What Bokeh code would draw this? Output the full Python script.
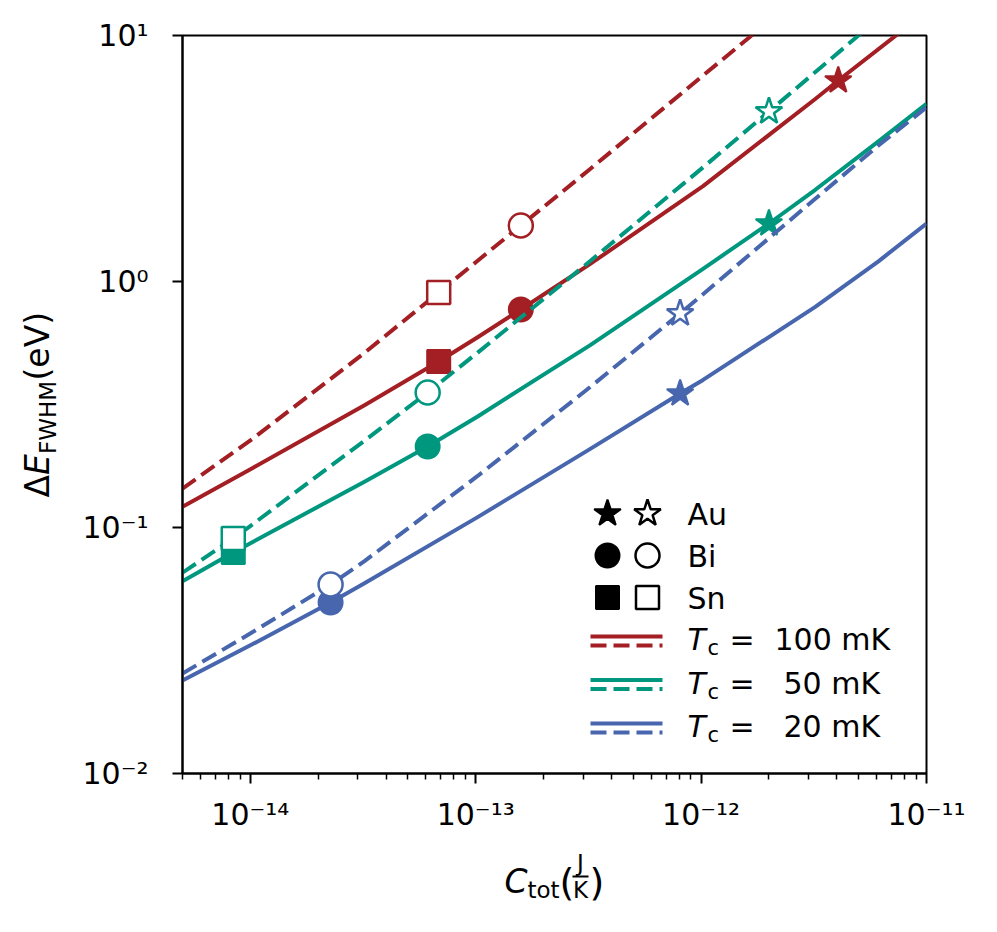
import numpy as np
from bokeh.plotting import figure
from bokeh.layouts import row, column
from bokeh.models import (FixedTicker, CustomJSTickFormatter, Label, Arrow, Range1d)
from bokeh.embed import file_html
from bokeh.resources import INLINE

# ---------------- data ----------------
# Tc = 100 mK
C_100_solid = [5.0e-15, 1.02e-14, 3.21e-14, 6.85e-14, 1.02e-13, 1.585e-13, 3.21e-13, 1.02e-12, 3.21e-12, 4.06e-12, 1.0e-11]
E_100_solid = [0.1215, 0.1742, 0.3142, 0.4729, 0.5934, 0.7697, 1.176, 2.44, 5.52, 6.563, 12.5]
C_100_dashed = [5.0e-15, 1.02e-14, 3.21e-14, 6.85e-14, 1.02e-13, 1.585e-13, 3.21e-13, 1.02e-12, 1.634e-12, 3.21e-12]
E_100_dashed = [0.144, 0.229, 0.513, 0.9021, 1.215, 1.689, 2.86, 6.876, 9.81, 16.8]
# Tc = 50 mK
C_50_solid = [5.0e-15, 8.4e-15, 1.02e-14, 3.21e-14, 6.12e-14, 1.02e-13, 3.21e-13, 1.02e-12, 2.0e-12, 3.21e-12, 6.12e-12, 1.0e-11]
E_50_solid = [0.0605, 0.0791, 0.0871, 0.1536, 0.2135, 0.2828, 0.5498, 1.126, 1.721, 2.36, 3.71, 5.27]
C_50_dashed = [5.0e-15, 8.4e-15, 1.02e-14, 3.21e-14, 6.12e-14, 1.02e-13, 3.21e-13, 1.02e-12, 2.0e-12, 4.99e-12, 1.0e-11]
E_50_dashed = [0.0655, 0.0902, 0.1028, 0.2253, 0.3538, 0.514, 1.208, 2.91, 4.911, 10.0, 17.5]
# Tc = 20 mK
C_20_solid = [5.0e-15, 1.02e-14, 2.27e-14, 3.21e-14, 1.02e-13, 3.21e-13, 8.07e-13, 1.02e-12, 3.21e-12, 6.12e-12, 1.0e-11]
E_20_solid = [0.0239, 0.0335, 0.04955, 0.0594, 0.1102, 0.2083, 0.3505, 0.398, 0.789, 1.208, 1.721]
C_20_dashed = [5.0e-15, 1.02e-14, 2.27e-14, 3.21e-14, 1.02e-13, 3.21e-13, 8.07e-13, 1.02e-12, 3.21e-12, 6.12e-12, 1.0e-11]
E_20_dashed = [0.0255, 0.0375, 0.05866, 0.0730, 0.162, 0.3715, 0.7413, 0.888, 2.17, 3.57, 5.10]

# absorber materials (markers): filled -> solid curve, open -> dashed curve
mat_100 = ["Au", "Bi", "Sn"]
C_100_mark = [4.06e-12, 1.585e-13, 6.85e-14]
E_100_filled = [6.563, 0.7697, 0.4729]
mat_100_open = ["Bi", "Sn"]
C_100_open = [1.585e-13, 6.85e-14]
E_100_open = [1.689, 0.9021]

mat_50 = ["Au", "Bi", "Sn"]
C_50_mark = [2.0e-12, 6.12e-14, 8.4e-15]
E_50_filled = [1.721, 0.2135, 0.0791]
mat_50_open = ["Au", "Bi", "Sn"]
C_50_open = [2.0e-12, 6.12e-14, 8.4e-15]
E_50_open = [4.911, 0.3538, 0.0902]

mat_20 = ["Au", "Bi"]
C_20_mark = [8.07e-13, 2.27e-14]
E_20_filled = [0.3505, 0.04955]
mat_20_open = ["Au", "Bi"]
C_20_open = [8.07e-13, 2.27e-14]
E_20_open = [0.7413, 0.05866]

Tc_labels = ["100 mK", "50 mK", "20 mK"]
materials = ["Au", "Bi", "Sn"]
x_major = [1e-14, 1e-13, 1e-12, 1e-11]
y_major = [1e-2, 1e-1, 1e0, 1e1]

# ---------------- style ----------------
RED, TEAL, BLUE = "#A31F24", "#00977F", "#4766AE"
SHAPE = {"Au": "star", "Bi": "circle", "Sn": "square"}
MSIZE = {"Au": 28, "Bi": 24, "Sn": 23}
LW = 4
DASH = "16 7"
FS = 30        # tick labels, legend
FSS = 21       # legend subscript
FA = 33        # axis labels
FAS = 23       # axis-label subscripts
FONT = "DejaVu Sans"
KB = 0.37      # baseline correction factor for Label text (em)

X_MIN, X_MAX = 5e-15, 1e-11
Y_MIN, Y_MAX = 1e-2, 1e1

# page layout (pixels)
YL_W = 70                 # width of the y-label strip
FL, FT, FW, FH = 182, 35, 744, 738      # main frame position on the page
FB = FT + FH
P_RIGHT = 40
P_BOTTOM = 62
P_H = FT + FH + P_BOTTOM
XL_H = 90
TOTAL_H = P_H + XL_H

p = figure(x_axis_type="log", y_axis_type="log",
           x_range=Range1d(X_MIN, X_MAX), y_range=Range1d(Y_MIN, Y_MAX),
           frame_width=FW, frame_height=FH,
           min_border_left=FL - YL_W, min_border_top=FT,
           min_border_right=P_RIGHT, min_border_bottom=P_BOTTOM,
           output_backend="svg", toolbar_location=None, title=None)
p.background_fill_color = "white"
p.border_fill_color = "white"
p.xgrid.visible = False
p.ygrid.visible = False
p.outline_line_color = "black"
p.outline_line_width = 2
p.outline_line_alpha = 1.0

fmt = CustomJSTickFormatter(code="""
const e = Math.round(Math.log10(tick));
const m = {"-":"\u207b","0":"\u2070","1":"\u00b9","2":"\u00b2","3":"\u00b3","4":"\u2074","5":"\u2075","6":"\u2076","7":"\u2077","8":"\u2078","9":"\u2079"};
let s = "";
for (const ch of String(e)) { s += m[ch]; }
return "10" + s;
""")

p.xaxis.ticker = FixedTicker(ticks=x_major,
                             minor_ticks=[m * 10.0 ** e for e in range(-15, -11) for m in range(2, 10)])
p.yaxis.ticker = FixedTicker(ticks=y_major, minor_ticks=[])
for ax in (p.xaxis, p.yaxis):
    ax.formatter = fmt
    ax.axis_line_width = 2
    ax.axis_line_color = "black"
    ax.major_tick_out = 10
    ax.major_tick_in = 0
    ax.major_tick_line_width = 2
    ax.minor_tick_out = 6
    ax.minor_tick_in = 0
    ax.minor_tick_line_width = 1.5
    ax.major_label_text_font = FONT
    ax.major_label_text_font_size = f"{FS}px"
    ax.major_label_text_color = "black"
p.yaxis.major_label_standoff = 24
p.xaxis.major_label_standoff = 13

# ---------------- curves and markers ----------------
series = [
    (RED, C_100_solid, E_100_solid, C_100_dashed, E_100_dashed,
     mat_100, C_100_mark, E_100_filled, mat_100_open, C_100_open, E_100_open),
    (TEAL, C_50_solid, E_50_solid, C_50_dashed, E_50_dashed,
     mat_50, C_50_mark, E_50_filled, mat_50_open, C_50_open, E_50_open),
    (BLUE, C_20_solid, E_20_solid, C_20_dashed, E_20_dashed,
     mat_20, C_20_mark, E_20_filled, mat_20_open, C_20_open, E_20_open),
]
for (col, cs, es, cd, ed, mf, cf, ef, mo, co, eo) in series:
    p.line(cs, es, line_color=col, line_width=LW, line_join="round")
    p.line(cd, ed, line_color=col, line_width=LW, line_dash=DASH, line_join="round")
    for m, c, e in zip(mf, cf, ef):
        p.scatter([c], [e], marker=SHAPE[m], size=MSIZE[m], fill_color=col,
                  line_color=col, line_width=2)
    for m, c, e in zip(mo, co, eo):
        p.scatter([c], [e], marker=SHAPE[m], size=MSIZE[m], fill_color="white",
                  line_color=col, line_width=2.5)

# ---------------- helpers for layout ----------------
LX0, LX1 = np.log10(X_MIN), np.log10(X_MAX)
LY0, LY1 = np.log10(Y_MIN), np.log10(Y_MAX)


def page_to_data(px, py):
    return (10 ** (LX0 + (px - FL) / FW * (LX1 - LX0)),
            10 ** (LY0 + (FB - py) / FH * (LY1 - LY0)))


def add_label(fig, ox, ob, text, px, py, size=FS, style="normal", align="left",
              angle=0.0):
    """Text whose baseline starts at page position (px, py); (ox, ob) = page x of
    the frame's left edge and page y of the frame's bottom edge of `fig`."""
    if angle == 0.0:
        py = py - KB * size
    else:
        px = px - KB * size
    fig.add_layout(Label(x=px - ox, y=ob - py, x_units="screen", y_units="screen",
                         text=text, text_font=FONT, text_font_size=f"{size}px",
                         text_font_style=style, text_align=align,
                         text_baseline="alphabetic", angle=angle, text_color="black"))


# ---------------- legend (inside the main frame) ----------------
leg_rows_y = [513, 555, 597]
for mat, ry in zip(materials, leg_rows_y):
    x1, y1 = page_to_data(607, ry)
    x2, y2 = page_to_data(647, ry)
    p.scatter([x1], [y1], marker=SHAPE[mat], size=MSIZE[mat], fill_color="black",
              line_color="black", line_width=2)
    p.scatter([x2], [y2], marker=SHAPE[mat], size=MSIZE[mat], fill_color="white",
              line_color="black", line_width=2.5)
    add_label(p, FL, FB, mat, 687, ry + 12)

line_rows_y = [640.5, 684, 727.5]
val_x = [774, 783, 783]
for col, ry, lab, vx in zip([RED, TEAL, BLUE], line_rows_y, Tc_labels, val_x):
    xa, ya = page_to_data(590, ry - 4.5)
    xb, yb = page_to_data(662, ry - 4.5)
    p.line([xa, xb], [ya, yb], line_color=col, line_width=LW)
    xa, ya = page_to_data(590, ry + 4.5)
    xb, yb = page_to_data(662, ry + 4.5)
    p.line([xa, xb], [ya, yb], line_color=col, line_width=LW, line_dash=DASH)
    by = ry + 10
    add_label(p, FL, FB, "T", 687, by, style="italic")
    add_label(p, FL, FB, "c", 707, by + 5, size=FSS)
    add_label(p, FL, FB, "=", 729, by)
    add_label(p, FL, FB, lab, vx, by)


def blank_fig(w, h, bl, br, bt, bb):
    f = figure(frame_width=w, frame_height=h, x_range=(0, 1), y_range=(0, 1),
               x_axis_location=None, y_axis_location=None,
               min_border_left=bl, min_border_right=br,
               min_border_top=bt, min_border_bottom=bb,
               output_backend="svg", toolbar_location=None, title=None)
    f.xgrid.visible = False
    f.ygrid.visible = False
    f.outline_line_color = None
    f.background_fill_color = "white"
    f.border_fill_color = "white"
    return f


# ---------------- y-axis label (left strip) ----------------
# frame of this strip: page x 0..YL_W, page y FT..FB
yfig = blank_fig(YL_W, FH, 0, 0, FT, TOTAL_H - FB)
yl_x = 49
y0 = 497
add_label(yfig, 0, FB, "\u0394", yl_x, y0, size=FA, angle=np.pi / 2)
add_label(yfig, 0, FB, "E", yl_x, y0 - 22.6, size=FA, style="italic", angle=np.pi / 2)
add_label(yfig, 0, FB, "FWHM", yl_x + 7, y0 - 43.5, size=FAS, angle=np.pi / 2)
add_label(yfig, 0, FB, "(eV)", yl_x, y0 - 117.0, size=FA, angle=np.pi / 2)

# ---------------- x-axis label (bottom strip) ----------------
# frame of this strip: page x FL..FL+FW, page y P_H..TOTAL_H
xfig = blank_fig(FW, XL_H, FL - YL_W, P_RIGHT, 0, 0)
XO, XB = FL, TOTAL_H
add_label(xfig, XO, XB, "C", 504, 893, size=FA, style="italic")
add_label(xfig, XO, XB, "tot", 527, 898, size=FAS)
add_label(xfig, XO, XB, "(", 559, 896, size=38)
add_label(xfig, XO, XB, "J", 580, 871, size=FAS, align="center")
add_label(xfig, XO, XB, "K", 580, 898, size=FAS, align="center")
xfig.add_layout(Arrow(x_start=572 - XO, y_start=XB - 876,
                      x_end=588 - XO, y_end=XB - 876,
                      start_units="screen", end_units="screen", end=None,
                      line_color="black", line_width=1.8))
add_label(xfig, XO, XB, ")", 589, 896, size=38)

layout = row(yfig, column(p, xfig))
open("out.html", "w").write(file_html(layout, INLINE))
